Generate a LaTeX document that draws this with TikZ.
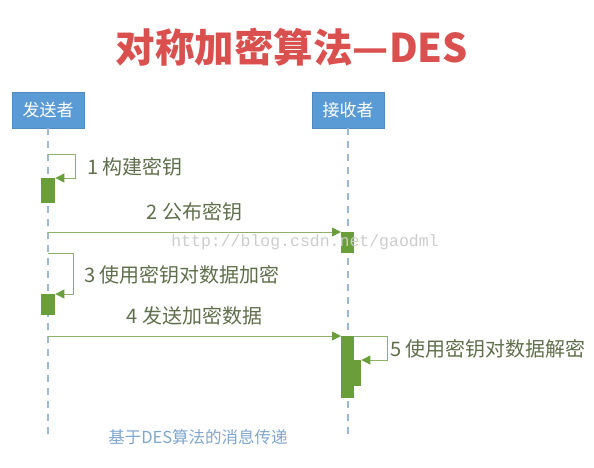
\documentclass[tikz,border=0pt]{standalone}
\usepackage{fontspec}
\newfontfamily\cjk{Noto Sans CJK SC}
\newfontfamily\wmark{Liberation Mono}
\usetikzlibrary{arrows.meta}

\definecolor{headblue}{HTML}{5B9BD5}
\definecolor{lifeblue}{HTML}{9DB7D8}
\definecolor{barg}{HTML}{6A9E3A}
\definecolor{msgg}{HTML}{8DB06C}
\definecolor{labg}{HTML}{5F6F4B}
\definecolor{titlered}{HTML}{D9504F}
\definecolor{capblue}{HTML}{7FA6CE}

\tikzset{
	head/.style={fill=headblue, draw=headblue!90!black, text=white, minimum width=72pt, minimum height=36pt, inner sep=0pt, font=\cjk\fontsize{17}{17}\selectfont},
	life/.style={lifeblue, line width=1.5pt, dash pattern=on 7pt off 6pt},
	bar/.style={fill=barg, inner sep=0pt, minimum width=14pt, anchor=north west},
	msg/.style={msgg, line width=1pt, -{Triangle[length=9pt,width=9pt,color=barg]}},
	lab/.style={text=labg, font=\cjk\fontsize{20}{20}\selectfont, inner sep=0pt},
}

\begin{document}
\begin{tikzpicture}[x=1pt,y=-1pt]
	\useasboundingbox (0,0) rectangle (594,467);
	
	%title
	\node at (292,47) [text=titlered, font=\cjk\bfseries\fontsize{39.5}{39.5}\selectfont] (title) {对称加密算法—DES};
	
	%lifelines
	\node at (48,110) [head] (snd) {发送者};
	\node at (348,110) [head] (rcv) {接收者};
	\foreach \n in {snd, rcv}{
		\draw[life] (\n.south) -- ++(0,312);
	}
	
	%activation bars
	\node at (41,178) [bar, minimum height=25pt] (b1) {};
	\node at (341,232) [bar, minimum width=13pt, minimum height=21pt] (b2) {};
	\node at (41,294) [bar, minimum height=21pt] (b3) {};
	\node at (341,336) [bar, minimum width=13pt, minimum height=62pt] (b4) {};
	\node at (354,360) [bar, minimum width=7pt, minimum height=26pt] (b5) {};
	
	%messages
	\coordinate (s1) at (48,154);
	\draw[msg] (s1) -- ++(27,0) |- (b1.north east);
	\node at (87,167) [lab, anchor=west] (t1) {1 构建密钥};
	
	\coordinate (s2) at (48,232);
	\draw[msg] (s2) -- (b2.north west) node[lab, midway, above=10pt] (t2) {2 公布密钥};
	
	\coordinate (s3) at (48,253);
	\draw[msg] (s3) -- ++(25,0) |- (b3.north east);
	\node at (84,275) [lab, anchor=west] (t3) {3 使用密钥对数据加密};
	
	\coordinate (s4) at (48,336);
	\draw[msg] (s4) -- (b4.north west) node[lab, midway, above=10pt] (t4) {4 发送加密数据};
	
	\draw[msg] (b4.north east) -- ++(33,0) |- (b5.north east);
	\node at (390,349) [lab, anchor=west] (t5) {5 使用密钥对数据解密};
	
	%caption
	\node at (198,437) [text=capblue, font=\cjk\fontsize{16.5}{16.5}\selectfont] (cap) {基于DES算法的消息传递};
	
	%watermark
	\node at (305,242) [text=gray!40, font=\wmark\fontsize{16.5}{16.5}\selectfont, inner sep=0pt] (wm) {http://blog.csdn.net/gaodml};
\end{tikzpicture}
\end{document}
